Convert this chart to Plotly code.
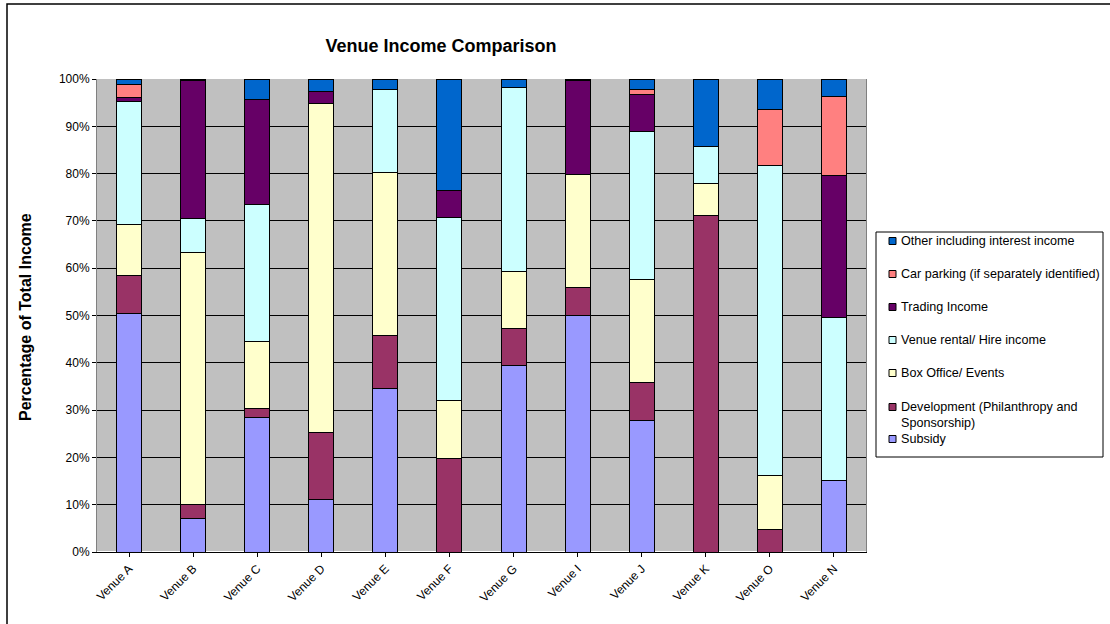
import plotly.graph_objects as go

venues = ["Venue A", "Venue B", "Venue C", "Venue D", "Venue E", "Venue F",
          "Venue G", "Venue I", "Venue J", "Venue K", "Venue O", "Venue N"]

subsidy     = [50.5, 7.1, 28.5, 11.2, 34.6, 0.0, 39.4, 49.9, 27.7, 0.0, 0.0, 15.2]
development = [7.9, 3.0, 1.9, 14.1, 11.1, 19.8, 7.9, 6.0, 8.2, 71.1, 4.8, 0.0]
box_office  = [10.85, 53.3, 14.0, 69.6, 34.6, 12.3, 12.1, 24.0, 21.8, 6.8, 11.3, 0.0]
rental      = [25.9, 7.1, 29.0, 0.0, 17.5, 38.6, 38.8, 0.0, 31.1, 7.8, 65.7, 34.4]
trading     = [1.0, 29.1, 22.3, 2.5, 0.0, 5.8, 0.0, 19.7, 8.0, 0.0, 0.0, 30.0]
car_parking = [2.7, 0.0, 0.0, 0.0, 0.0, 0.0, 0.0, 0.0, 1.0, 0.0, 11.8, 16.7]
other       = [1.15, 0.4, 4.3, 2.6, 2.2, 23.5, 1.8, 0.4, 2.2, 14.3, 6.4, 3.7]

series_names = ["Subsidy", "Development (Philanthropy and<br>Sponsorship)",
                "Box Office/ Events", "Venue rental/ Hire income", "Trading Income",
                "Car parking (if separately identified)", "Other including interest income"]
series_values = [subsidy, development, box_office, rental, trading, car_parking, other]
series_colors = ["#9999FF", "#993366", "#FFFFCC", "#CCFFFF", "#660066", "#FF8080", "#0066CC"]

# plot-area geometry (pixels) used to place the hand-built legend
W, H = 1110, 624
L, R, T, B = 97, 244, 79, 72
PW, PH = W - L - R, H - T - B

def px(x):
    return (x - L) / PW

def py(y):
    return (H - B - y) / PH

fig = go.Figure()
for name, vals, col in zip(series_names, series_values, series_colors):
    fig.add_trace(go.Bar(
        x=venues, y=vals, name=name, showlegend=False,
        marker=dict(color=col, line=dict(color="black", width=1)),
    ))

shapes = [
    # outer chart border
    dict(type="rect", xref="paper", yref="paper",
         x0=px(7), x1=px(1200), y0=py(700), y1=py(4),
         line=dict(color="black", width=1.5), fillcolor="rgba(0,0,0,0)", layer="above"),
    # legend box
    dict(type="rect", xref="paper", yref="paper",
         x0=px(876), x1=px(1103), y0=py(457), y1=py(232),
         line=dict(color="black", width=1), fillcolor="white", layer="above"),
]
annotations = []
# legend entries listed top to bottom (reverse of stacking order)
legend_y = [439, 407, 373, 340, 307, 274, 241]
for name, col, yc in zip(series_names, series_colors, legend_y):
    shapes.append(dict(type="rect", xref="paper", yref="paper",
                       x0=px(889), x1=px(896), y0=py(yc + 3.5), y1=py(yc - 3.5),
                       line=dict(color="black", width=1), fillcolor=col, layer="above"))
    if "<br>" in name:
        annotations.append(dict(text=name, xref="paper", yref="paper", x=px(899), y=py(yc - 9),
                                xanchor="left", yanchor="top", align="left", showarrow=False,
                                font=dict(size=12.6)))
    else:
        annotations.append(dict(text=name, xref="paper", yref="paper", x=px(899), y=py(yc),
                                xanchor="left", yanchor="middle", showarrow=False,
                                font=dict(size=12.6)))

# y-axis title
annotations.append(dict(text="<b>Percentage of Total Income</b>", xref="paper", yref="paper",
                        x=px(25), y=py(317), xanchor="center", yanchor="middle",
                        textangle=-90, showarrow=False, font=dict(size=16)))

fig.update_layout(
    width=W, height=H,
    barmode="stack", barnorm="percent",
    bargap=0.61,
    showlegend=False,
    paper_bgcolor="white", plot_bgcolor="#C0C0C0",
    margin=dict(l=L, r=R, t=T, b=B),
    font=dict(family="Liberation Sans, Arial, sans-serif", size=11, color="black"),
    title=dict(text="<b>Venue Income Comparison</b>", x=px(441), xref="paper", xanchor="center",
               y=1 - 46 / H, yanchor="middle", font=dict(size=18, color="black")),
    xaxis=dict(
        tickangle=-45, showgrid=False, ticks="outside", ticklen=4,
        tickcolor="black", showline=True, linecolor="black", linewidth=1,
        tickfont=dict(size=12),
    ),
    yaxis=dict(
        range=[0, 100], dtick=10, ticksuffix="%",
        showgrid=True, gridcolor="black", gridwidth=1,
        ticks="outside", ticklen=4, tickcolor="black",
        showline=True, linecolor="#808080", linewidth=1, mirror=True,
        tickfont=dict(size=12),
    ),
    shapes=shapes,
    annotations=annotations,
)

fig.write_html("out.html")
